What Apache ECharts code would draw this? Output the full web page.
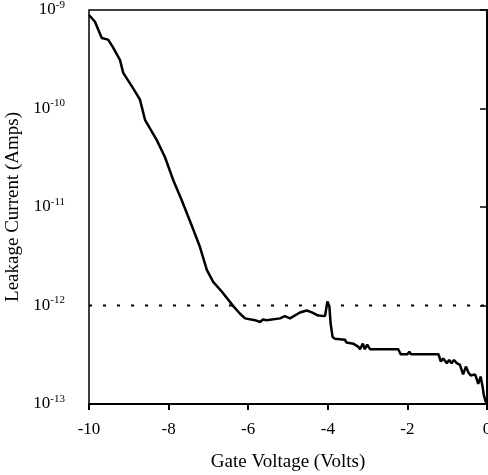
<!DOCTYPE html>
<html>
<head>
<meta charset="utf-8">
<script src="https://cdn.jsdelivr.net/npm/echarts@6/dist/echarts.min.js"></script>
<style>
  html, body { margin: 0; padding: 0; background: #fff; }
  #chart { width: 488px; height: 475px; }
</style>
</head>
<body>
<div id="chart"></div>
<script>
// gate voltage (V) and leakage current (A)
const voltage = [
  -10, -9.85, -9.68, -9.52, -9.40, -9.22, -9.14, -8.89, -8.72, -8.59,
  -8.30, -8.09, -7.88, -7.67, -7.38, -7.21, -7.04, -6.88, -6.66, -6.37,
  -6.21, -6.08, -5.83, -5.70, -5.63, -5.54, -5.20, -5.08, -4.95, -4.70,
  -4.53, -4.40, -4.24, -4.07, -4.01, -3.96, -3.93, -3.88, -3.82, -3.57,
  -3.53, -3.36, -3.23, -3.19, -3.12, -3.07, -3.01, -2.94, -2.23, -2.17,
  -2.00, -1.95, -1.91, -1.85, -1.22, -1.16, -1.10, -1.01, -0.95, -0.89,
  -0.83, -0.76, -0.68, -0.60, -0.53, -0.47, -0.41, -0.30, -0.26, -0.22,
  -0.16, -0.11, -0.08, -0.03, 0
];
const current = [
  8.9e-10, 7.6e-10, 5.2e-10, 5.0e-10, 4.2e-10, 3.1e-10, 2.3e-10, 1.6e-10, 1.23e-10, 7.6e-11,
  4.8e-11, 3.2e-11, 1.86e-11, 1.17e-11, 5.9e-12, 3.9e-12, 2.3e-12, 1.74e-12, 1.38e-12, 9.8e-13,
  8.3e-13, 7.4e-13, 7.1e-13, 6.8e-13, 7.2e-13, 7.1e-13, 7.4e-13, 7.8e-13, 7.4e-13, 8.5e-13,
  8.9e-13, 8.5e-13, 7.9e-13, 7.8e-13, 1.1e-12, 9.8e-13, 6.6e-13, 4.8e-13, 4.6e-13, 4.5e-13,
  4.2e-13, 4.1e-13, 3.8e-13, 3.6e-13, 4.1e-13, 3.6e-13, 4.0e-13, 3.6e-13, 3.6e-13, 3.2e-13,
  3.2e-13, 3.4e-13, 3.2e-13, 3.2e-13, 3.2e-13, 2.7e-13, 2.9e-13, 2.6e-13, 2.8e-13, 2.6e-13,
  2.8e-13, 2.6e-13, 2.5e-13, 2.0e-13, 2.4e-13, 2.1e-13, 1.95e-13, 2.0e-13, 1.8e-13, 1.6e-13,
  1.9e-13, 1.5e-13, 1.23e-13, 1.05e-13, 1.0e-13
];
const xTicks = [-10, -8, -6, -4, -2, 0];
const limitLevel = 1e-12;

const font = "Liberation Serif";
const myChart = echarts.init(document.getElementById("chart"));

const option = {
  animation: false,
  grid: {
    left: 89,
    right: 1,
    top: 10,
    bottom: 71,
    outerBoundsMode: "none",
    show: true,
    borderColor: "#000",
    borderWidth: 1.5,
  },
  xAxis: {
    type: "value",
    min: xTicks[0],
    max: xTicks[xTicks.length - 1],
    interval: 2,
    name: "Gate Voltage (Volts)",
    nameLocation: "middle",
    nameGap: 49,
    nameTextStyle: { fontFamily: font, fontSize: 19, color: "#000" },
    axisLine: { lineStyle: { color: "#000", width: 2 } },
    axisTick: { inside: false, length: 6, lineStyle: { color: "#000", width: 2 } },
    axisLabel: { margin: 17, fontFamily: font, fontSize: 17, color: "#000" },
    splitLine: { show: false },
  },
  yAxis: {
    type: "log",
    logBase: 10,
    min: 1e-13,
    max: 1e-9,
    name: "Leakage Current (Amps)",
    nameLocation: "middle",
    nameGap: 57,
    nameTextStyle: { fontFamily: font, fontSize: 19, color: "#000" },
    axisLine: { lineStyle: { color: "#000", width: 2 } },
    axisTick: { length: 7, lineStyle: { color: "#000", width: 1.5 } },
    axisLabel: {
      margin: 24,
      formatter: (v) => "{b|10}{s|" + Math.round(Math.log10(v)) + "}",
      rich: {
        b: { fontFamily: font, fontSize: 17, color: "#000" },
        s: { fontFamily: font, fontSize: 11, color: "#000", padding: [0, 0, 10, 0] },
      },
    },
    splitLine: { show: false },
  },
  series: [
    {
      type: "line",
      data: voltage.map((v, i) => [v, current[i]]),
      showSymbol: false,
      lineStyle: { color: "#000", width: 2.5 },
    },
    {
      // dotted reference level at 1 pA
      type: "line",
      data: [[xTicks[0], limitLevel], [xTicks[xTicks.length - 1], limitLevel]],
      showSymbol: false,
      silent: true,
      lineStyle: { color: "#000", width: 2, type: [3, 11] },
    },
  ],
};

myChart.setOption(option);
</script>
</body>
</html>
